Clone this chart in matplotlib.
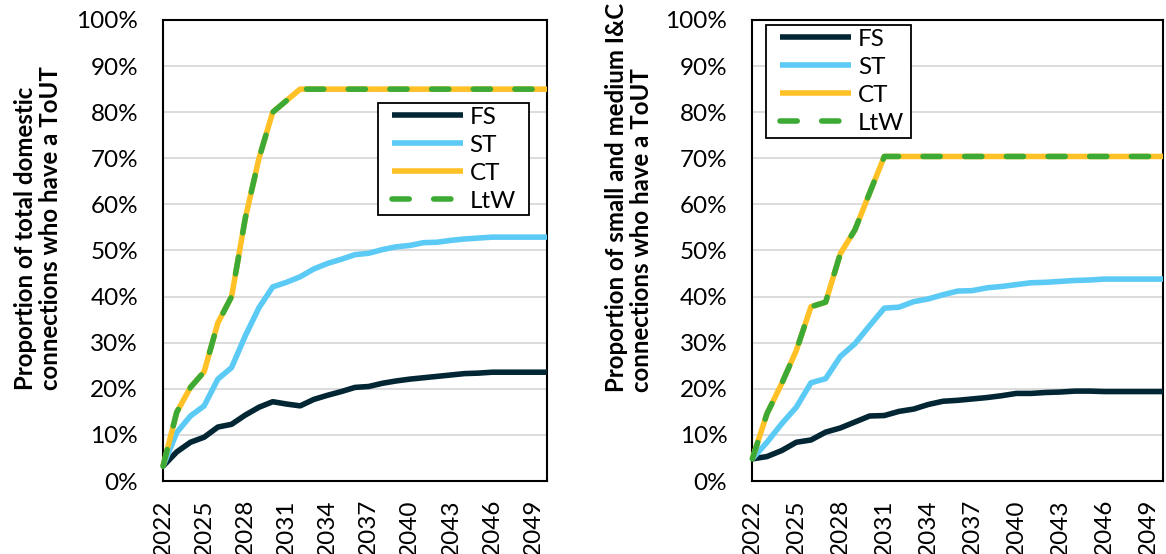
import matplotlib
matplotlib.use("Agg")
import matplotlib.pyplot as plt
from matplotlib.ticker import FixedLocator, FuncFormatter
from matplotlib.legend_handler import HandlerLine2D

# ---- data -------------------------------------------------------------
years = list(range(2022, 2051))
tick_years = list(range(2022, 2050, 3))
pct_ticks = list(range(0, 101, 10))

series_names = ["FS", "ST", "CT", "LtW"]

# domestic connections (% with a ToUT)
dom_fs = [3.2, 6.3, 8.4, 9.5, 11.7, 12.3, 14.3, 16.0, 17.2, 16.7, 16.3, 17.7, 18.6, 19.4, 20.3,
          20.5, 21.2, 21.7, 22.1, 22.4, 22.7, 23.0, 23.3, 23.4, 23.6, 23.6, 23.6, 23.6, 23.6]
dom_st = [3.2, 10.5, 14.1, 16.3, 22.1, 24.6, 31.5, 37.6, 42.1, 43.1, 44.3, 46.0, 47.2, 48.1, 49.1,
          49.4, 50.2, 50.8, 51.1, 51.7, 51.8, 52.2, 52.5, 52.7, 52.9, 52.9, 52.9, 52.9, 52.9]
dom_ct = [3.2, 14.9, 20.3, 23.7, 34.3, 40.0, 57.0, 70.0, 80.0, 82.5, 85.0, 85.0, 85.0, 85.0, 85.0,
          85.0, 85.0, 85.0, 85.0, 85.0, 85.0, 85.0, 85.0, 85.0, 85.0, 85.0, 85.0, 85.0, 85.0]
dom_ltw = [3.2, 14.9, 20.3, 23.7, 34.3, 40.0, 57.0, 70.0, 80.0, 82.5, 85.0, 85.0, 85.0, 85.0, 85.0,
           85.0, 85.0, 85.0, 85.0, 85.0, 85.0, 85.0, 85.0, 85.0, 85.0, 85.0, 85.0, 85.0, 85.0]

# small and medium I&C connections (% with a ToUT)
sme_fs = [4.8, 5.3, 6.6, 8.4, 8.9, 10.6, 11.5, 12.8, 14.1, 14.2, 15.1, 15.6, 16.6, 17.3, 17.5,
          17.8, 18.1, 18.5, 19.0, 19.0, 19.2, 19.3, 19.5, 19.5, 19.4, 19.4, 19.4, 19.4, 19.4]
sme_st = [4.8, 8.4, 12.4, 16.0, 21.3, 22.2, 27.0, 29.8, 33.7, 37.5, 37.7, 38.9, 39.5, 40.4, 41.2,
          41.3, 41.9, 42.2, 42.6, 43.0, 43.1, 43.3, 43.5, 43.6, 43.8, 43.8, 43.8, 43.8, 43.8]
sme_ct = [4.8, 14.6, 21.1, 28.3, 37.8, 38.8, 49.3, 54.5, 62.5, 70.4, 70.4, 70.4, 70.4, 70.4, 70.4,
          70.4, 70.4, 70.4, 70.4, 70.4, 70.4, 70.4, 70.4, 70.4, 70.4, 70.4, 70.4, 70.4, 70.4]
sme_ltw = [4.8, 14.6, 21.1, 28.3, 37.8, 38.8, 49.3, 54.5, 62.5, 70.4, 70.4, 70.4, 70.4, 70.4, 70.4,
           70.4, 70.4, 70.4, 70.4, 70.4, 70.4, 70.4, 70.4, 70.4, 70.4, 70.4, 70.4, 70.4, 70.4]

ylabel_dom = "Proportion of total domestic\nconnections who have a ToUT"
ylabel_sme = "Proportion of small and medium I&C\nconnections who have a ToUT"

# ---- styling ----------------------------------------------------------
colors = {"FS": "#022633", "ST": "#5BCAF5", "CT": "#FFC125", "LtW": "#3DAA35"}
FONT = ["Lato", "DejaVu Sans"]
FS_TICK = 17.5
LW = 4.0

plt.rcParams["font.family"] = FONT

W, H = 1166, 554
fig = plt.figure(figsize=(W / 100, H / 100), dpi=100)


def px_axes(x0, x1, y0, y1):
    return fig.add_axes([x0 / W, 1 - y1 / H, (x1 - x0) / W, (y1 - y0) / H])


def draw_panel(ax, fs, st, ct, ltw, legend_box):
    ax.plot(years, fs, color=colors["FS"], lw=LW, solid_joinstyle="round",
            solid_capstyle="butt", label="FS", clip_on=False, zorder=3)
    ax.plot(years, st, color=colors["ST"], lw=LW, solid_joinstyle="round",
            solid_capstyle="butt", label="ST", clip_on=False, zorder=4)
    ax.plot(years, ct, color=colors["CT"], lw=LW, solid_joinstyle="round",
            solid_capstyle="butt", label="CT", clip_on=False, zorder=5)
    ax.plot(years, ltw, color=colors["LtW"], lw=LW, linestyle=(0, (3.1, 4.4)),
            dash_capstyle="round", dash_joinstyle="round", label="LtW",
            clip_on=False, zorder=6)

    ax.set_xlim(years[0], years[-1])
    ax.set_ylim(0, 100)
    ax.xaxis.set_major_locator(FixedLocator(tick_years))
    ax.yaxis.set_major_locator(FixedLocator(pct_ticks))
    ax.yaxis.set_major_formatter(FuncFormatter(lambda v, p: f"{v:.0f}%"))
    ax.tick_params(axis="y", length=0, pad=18, labelsize=FS_TICK)
    ax.tick_params(axis="x", length=0, pad=13, labelsize=FS_TICK, labelrotation=90)
    ax.grid(axis="y", color="#D9D9D9", lw=1.3, zorder=0)
    ax.set_axisbelow(True)
    for s in ax.spines.values():
        s.set_color("black")
        s.set_linewidth(1.5)
        s.set_zorder(2)

    leg = ax.legend(loc="upper left", bbox_to_anchor=legend_box, mode="expand",
                    borderaxespad=0, fontsize=FS_TICK, frameon=True, fancybox=False,
                    edgecolor="black", framealpha=1, borderpad=0.15, labelspacing=0.29,
                    handlelength=3.35, handletextpad=0.28,
                    handler_map={l: HandlerLine2D(xpad=0.43) for l in ax.get_lines()})
    leg.get_frame().set_linewidth(1.3)
    leg.set_zorder(10)
    return ax


ax1 = px_axes(163, 547, 20, 481)
draw_panel(ax1, dom_fs, dom_st, dom_ct, dom_ltw, (0.559, 0.560, 0.394, 0.260))

ax2 = px_axes(752.3, 1163, 20, 481)
draw_panel(ax2, sme_fs, sme_st, sme_ct, sme_ltw, (0.0334, 0.727, 0.352, 0.262))

fig.text(38 / W, 1 - 390 / H, ylabel_dom, rotation=90, ha="center", va="bottom",
         multialignment="left", fontsize=17.3, fontweight="bold", linespacing=1.1)
fig.text(629 / W, 1 - 392 / H, ylabel_sme, rotation=90, ha="center", va="bottom",
         multialignment="left", fontsize=17.3, fontweight="bold", linespacing=1.1)

fig.savefig("out.png", dpi=100, facecolor="white")
